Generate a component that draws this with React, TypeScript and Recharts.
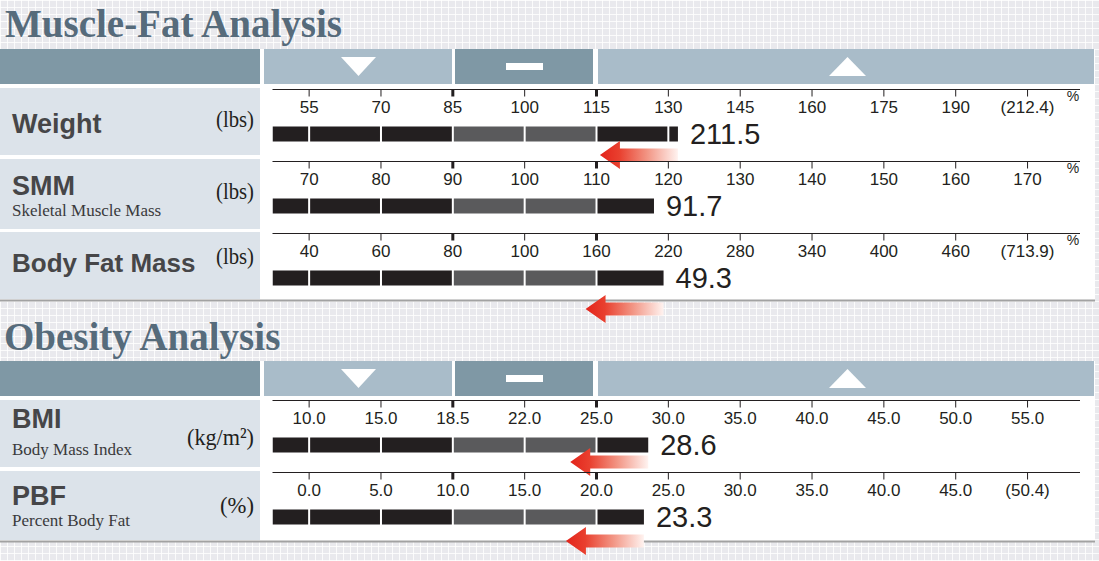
import React from "react";
import { BarChart, Bar, XAxis, YAxis } from "recharts";

// row labels
const rowNames = ["Weight", "SMM", "Body Fat Mass", "BMI", "PBF"];
const rowSubtitles = ["", "Skeletal Muscle Mass", "", "Body Mass Index", "Percent Body Fat"];
const rowUnits = ["(lbs)", "(lbs)", "(lbs)", "(kg/m²)", "(%)"];

// tick labels of each row
const weightTicks = ["55", "70", "85", "100", "115", "130", "145", "160", "175", "190", "(212.4)"];
const smmTicks = ["70", "80", "90", "100", "110", "120", "130", "140", "150", "160", "170"];
const bfmTicks = ["40", "60", "80", "100", "160", "220", "280", "340", "400", "460", "(713.9)"];
const bmiTicks = ["10.0", "15.0", "18.5", "22.0", "25.0", "30.0", "35.0", "40.0", "45.0", "50.0", "55.0"];
const pbfTicks = ["0.0", "5.0", "10.0", "15.0", "20.0", "25.0", "30.0", "35.0", "40.0", "45.0", "(50.4)"];
const rowTicks = [weightTicks, smmTicks, bfmTicks, bmiTicks, pbfTicks];

// where each bar ends, read on the row's own tick scale
const barLevels = [132, 118, 216, 28.6, 23.3];
const readings = ["211.5", "91.7", "49.3", "28.6", "23.3"];
const showArrow = [true, false, true, true, true];
const showPercent = [true, true, true, false, false];

// layout
const AXIS_Y = [89, 161, 233, 400, 472];
const ARROW_DY = [66, 0, 76, 62, 69];
const BOXES = [[88, 155], [159, 229], [232, 299], [400, 467], [471, 540]];
const NAME_Y = [133, 195, 272, 428, 505];
const SUB_Y = [0, 216, 0, 455, 526];
const UNIT_Y = [127, 199, 264, 445, 513];
const UNIT_W = [38, 38, 38, 67, 34];

const DOMAIN_MIN = -0.51;
const DOMAIN_MAX = 10.73;
const INK = "#231f20";
const GRAY = "#5a5a5c";
const SANS = "'Liberation Sans', Arial, sans-serif";
const SERIF = "'Liberation Serif', 'Times New Roman', serif";

// tick labels are not evenly spaced in value, so map a level onto tick positions
const toIndex = (level: number, ticks: string[]) => {
  const nums = ticks.map((t) => parseFloat(t.replace(/[()]/g, "")));
  for (let k = 0; k < nums.length - 1; k++) {
    if (level <= nums[k + 1]) return k + (level - nums[k]) / (nums[k + 1] - nums[k]);
  }
  return nums.length - 1;
};

const AxisTick = (props: any) => {
  const { x, y, payload, labels } = props;
  const i = payload.value;
  const bold = i === 2 || i === 4;
  return (
    <g>
      <line x1={x} x2={x} y1={y} y2={y + 7} stroke={INK} strokeWidth={bold ? 3 : 1} />
      <text x={x} y={y + 23} textAnchor="middle" fontSize={17} fill={INK} fontFamily={SANS}>
        {labels[i]}
      </text>
    </g>
  );
};

const SegmentedBar = (props: any) => {
  const { x, y, width, height, payload, row } = props;
  const [lo, hi] = payload.span;
  const ppu = width / (hi - lo);
  const end = x + width;
  const bounds = [x];
  for (let k = 0; k < hi; k++) bounds.push(x + (k - lo) * ppu);
  bounds.push(end);
  const last = bounds.length - 2;
  const cy = 1 + ARROW_DY[row];
  const tip = end - 78;
  return (
    <g>
      {bounds.slice(0, -1).map((b, j) => {
        const left = b + (j > 0 ? 1 : 0);
        const right = bounds[j + 1] - (j < last ? 1 : 0);
        return (
          <rect key={j} x={left} y={y} width={Math.max(0, right - left)} height={height}
            fill={j === 3 || j === 4 ? GRAY : INK} />
        );
      })}
      <text x={end + 12} y={y + height + 2} fontSize={29} fill={INK} fontFamily={SANS}>
        {readings[row]}
      </text>
      {showArrow[row] && (
        <g>
          <defs>
            <linearGradient id={`fade${row}`} x1="0" x2="1" y1="0" y2="0">
              <stop offset="0" stopColor="#e3241b" />
              <stop offset="0.25" stopColor="#e9402f" />
              <stop offset="0.6" stopColor="#f29483" />
              <stop offset="1" stopColor="#fff3f0" />
            </linearGradient>
          </defs>
          <path
            d={`M${tip},${cy} L${tip + 20},${cy - 14} L${tip + 20},${cy - 6.5} L${end},${cy - 6.5} L${end},${cy + 6.5} L${tip + 20},${cy + 6.5} L${tip + 20},${cy + 14} Z`}
            fill={`url(#fade${row})`}
          />
        </g>
      )}
    </g>
  );
};

const RowChart = ({ row }: { row: number }) => {
  const ticks = rowTicks[row];
  const data = [{ name: rowNames[row], span: [DOMAIN_MIN, toIndex(barLevels[row], ticks)] }];
  return (
    <div style={{ position: "absolute", left: 262, top: AXIS_Y[row] - 1 }}>
      <BarChart width={833} height={65} data={data} layout="vertical" barSize={15}
        margin={{ top: 0.5, right: 15, bottom: 0, left: 10.5 }}>
        <XAxis type="number" orientation="top" domain={[DOMAIN_MIN, DOMAIN_MAX]} allowDataOverflow
          ticks={ticks.map((_, i) => i)} interval={0} height={1} tickSize={0} tickMargin={0}
          axisLine={{ stroke: INK, strokeWidth: 1 }} tickLine={false} tick={<AxisTick labels={ticks} />} />
        <YAxis type="category" dataKey="name" width={0} tick={false} tickLine={false}
          axisLine={{ stroke: INK, strokeWidth: 1 }} padding={{ top: 25, bottom: 0 }} />
        <Bar dataKey="span" isAnimationActive={false} shape={<SegmentedBar row={row} />} />
      </BarChart>
    </div>
  );
};

const Header = ({ top }: { top: number }) => (
  <g>
    <rect x={0} y={top} width={260} height={35} fill="#7f98a5" />
    <rect x={264} y={top} width={188} height={35} fill="#a9bcc9" />
    <rect x={455} y={top} width={138} height={35} fill="#7f98a5" />
    <rect x={598} y={top} width={496} height={35} fill="#a9bcc9" />
    <polygon points={`341,${top + 8} 376,${top + 8} 358.5,${top + 27}`} fill="#fff" />
    <rect x={506} y={top + 14} width={37} height={7} fill="#fff" />
    <polygon points={`829,${top + 27} 866,${top + 27} 847.5,${top + 8}`} fill="#fff" />
  </g>
);

export default function App() {
  return (
    <div
      style={{
        position: "absolute", left: 0, top: 0, width: 1099, height: 561, overflow: "hidden",
        backgroundColor: "#e9e9ed",
        backgroundImage:
          "linear-gradient(rgba(255,255,255,0.8) 1px, transparent 1px), linear-gradient(90deg, rgba(255,255,255,0.8) 1px, transparent 1px)",
        backgroundSize: "7px 7px",
      }}
    >
      <style>{`.recharts-surface{overflow:visible}`}</style>
      <svg width={1099} height={561} style={{ position: "absolute", left: 0, top: 0 }}>
        <text x={5} y={37} fontSize={39} fontWeight="bold" fill="#566b7b" fontFamily={SERIF}>Muscle-Fat Analysis</text>
        <text x={4} y={350} fontSize={39} fontWeight="bold" fill="#566b7b" fontFamily={SERIF}>Obesity Analysis</text>
        <rect x={0} y={49} width={1095} height={251} fill="#fff" />
        <rect x={0} y={361} width={1095} height={180} fill="#fff" />
        <rect x={0} y={299.5} width={1095} height={2} fill="#a2a2a2" />
        <rect x={0} y={540.5} width={1095} height={2} fill="#a2a2a2" />
        <Header top={49} />
        <Header top={361} />
        {rowNames.map((name, r) => (
          <g key={name}>
            <rect x={0} y={BOXES[r][0]} width={260} height={BOXES[r][1] - BOXES[r][0]} fill="#dce3ea" />
            <text x={12} y={NAME_Y[r]} fontSize={r === 2 ? 26 : 27} fontWeight="bold" fill="#464648" fontFamily={SANS}>{name}</text>
            {rowSubtitles[r] && (
              <text x={12} y={SUB_Y[r]} fontSize={17} fill="#3a3a3c" fontFamily={SERIF}>{rowSubtitles[r]}</text>
            )}
            <text x={254} y={UNIT_Y[r]} textAnchor="end" fontSize={24} textLength={UNIT_W[r]}
              lengthAdjust="spacingAndGlyphs" fill="#231f20" fontFamily={SERIF}>{rowUnits[r]}</text>
            {showPercent[r] && (
              <text x={1073} y={AXIS_Y[r] + 12} textAnchor="middle" fontSize={14} fill="#231f20" fontFamily={SANS}>%</text>
            )}
          </g>
        ))}
      </svg>
      {rowNames.map((name, r) => (
        <RowChart key={name} row={r} />
      ))}
    </div>
  );
}
